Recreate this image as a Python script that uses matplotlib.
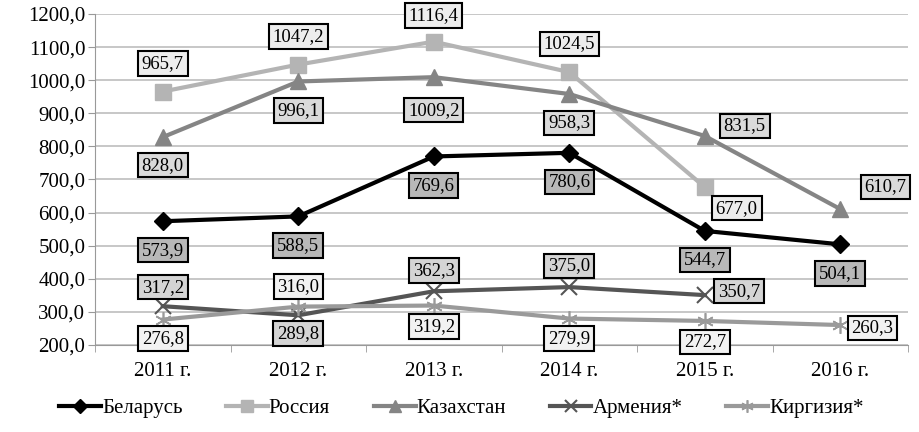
import matplotlib.pyplot as plt
import numpy as np

plt.rcParams['font.family'] = ['Liberation Serif', 'DejaVu Serif']

years = ['2011 г.', '2012 г.', '2013 г.', '2014 г.', '2015 г.', '2016 г.']
belarus = [573.9, 588.5, 769.6, 780.6, 544.7, 504.1]
russia = [965.7, 1047.2, 1116.4, 1024.5, 677.0]
kazakhstan = [828.0, 996.1, 1009.2, 958.3, 831.5, 610.7]
armenia = [317.2, 289.8, 362.3, 375.0, 350.7]
kyrgyzstan = [276.8, 316.0, 319.2, 279.9, 272.7, 260.3]

# label offsets in pixels (dx, dy) per point
off_bel = [(0, -29)] * 6
off_rus = [(0, 28), (0, 28), (0, 26), (0, 28), (32, -21)]
off_kaz = [(0, -28), (0, -29), (0, -33), (0, -29), (40, 10), (45, 22)]
off_arm = [(0, 19), (0, -18), (0, 21), (0, 21), (34, 4)]
off_kyr = [(0, -19), (0, 20), (0, -21), (0, -20), (0, -21), (32, -3)]

series = [
    ('Беларусь', belarus, off_bel, dict(color='black', marker='D', markersize=9), '#b8b8b8'),
    ('Россия', russia, off_rus, dict(color='#b4b4b4', marker='s', markersize=11), '#ededed'),
    ('Казахстан', kazakhstan, off_kaz, dict(color='#858585', marker='^', markersize=12), '#dadada'),
    ('Армения*', armenia, off_arm, dict(color='#555555', marker='x', markersize=11, markeredgewidth=1.5), '#d4d4d4'),
    ('Киргизия*', kyrgyzstan, off_kyr, dict(color='#9a9a9a', marker=(6, 2, 0), markersize=12, markeredgewidth=1.2), '#f2f2f2'),
]

fig = plt.figure(figsize=(9.19, 4.32), dpi=100)
ax = fig.add_axes([95 / 919, 87 / 432, 813 / 919, 331 / 432])

x = np.arange(len(years))
for name, vals, offs, style, fill in series:
    xs = x[:len(vals)]
    ax.plot(xs, vals, linewidth=3, label=name, zorder=3, **style)
    for xi, v, (dx, dy) in zip(xs, vals, offs):
        ax.annotate(f'{v:.1f}'.replace('.', ','), (xi, v), xytext=(dx, dy),
                    textcoords='offset pixels', ha='center', va='center',
                    fontsize=13.5, zorder=5, annotation_clip=False,
                    bbox=dict(boxstyle='square,pad=0.2', fc=fill, ec='black', lw=1.5))

ax.set_xlim(-0.5, 5.5)
ax.set_ylim(200, 1200)
ax.set_yticks(np.arange(200, 1201, 100))
ax.set_yticklabels([f'{t:.1f}'.replace('.', ',') for t in np.arange(200, 1201, 100)])
ax.set_xticks(x)
ax.set_xticklabels(years)
ax.set_xticks(np.arange(-0.5, 6, 1), minor=True)
ax.tick_params(axis='x', which='major', length=0, labelsize=15, pad=12)
ax.tick_params(axis='x', which='minor', length=5, color='#999999', direction='out')
ax.tick_params(axis='y', length=5, color='#999999', labelsize=15, pad=2)
ax.grid(axis='y', color='#bdbdbd', linewidth=1.2)
ax.set_axisbelow(True)
for s in ['top', 'right']:
    ax.spines[s].set_visible(False)
ax.spines['left'].set_color('#999999')
ax.spines['bottom'].set_color('#999999')

fig.legend(loc='center', bbox_to_anchor=(0.502, 24 / 432), ncol=5, frameon=False,
           fontsize=15, handlelength=2.0, handletextpad=0.05, columnspacing=2.1,
           markerscale=0.75)

fig.savefig('out.png', dpi=100)
